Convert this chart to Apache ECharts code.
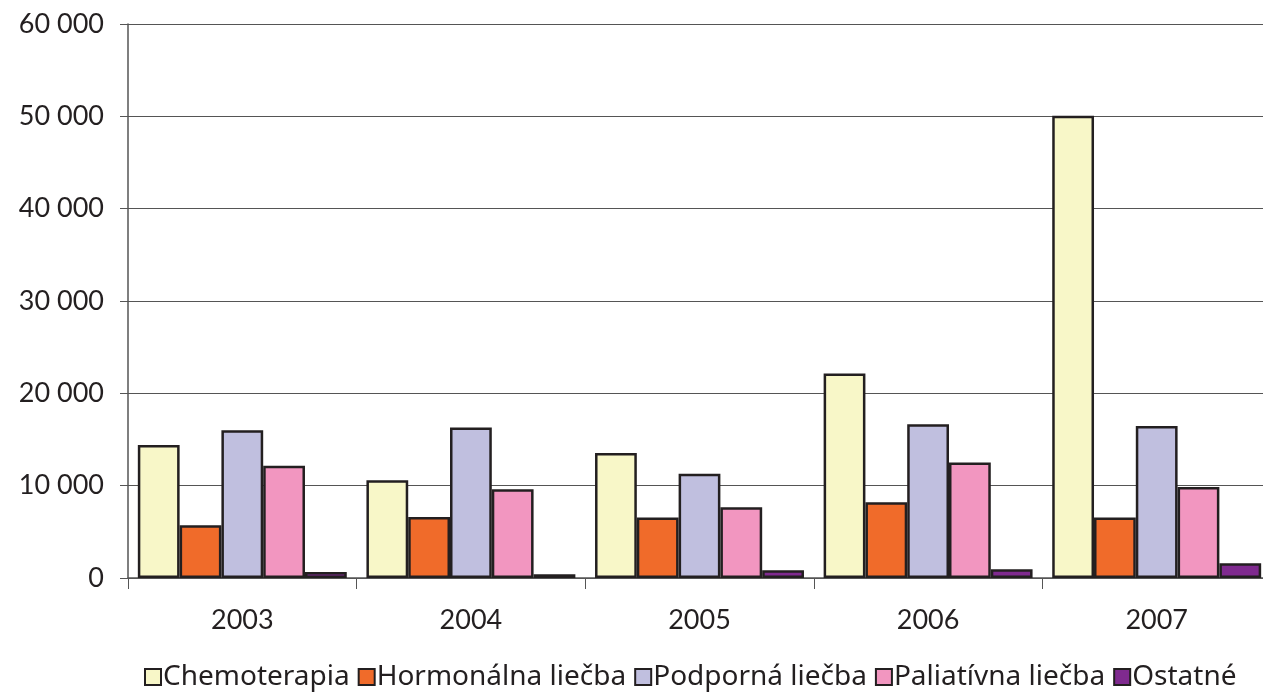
<!DOCTYPE html>
<html>
<head>
<meta charset="utf-8">
<script src="https://cdn.jsdelivr.net/npm/echarts@6/dist/echarts.min.js"></script>
<style>
html, body { margin: 0; padding: 0; background: #fff; }
#main { width: 1263px; height: 696px; }
</style>
</head>
<body>
<div id="main"></div>
<script>
// roky
const years = ['2003', '2004', '2005', '2006', '2007']
const seriesNames = ['Chemoterapia', 'Hormonálna liečba', 'Podporná liečba', 'Paliatívna liečba', 'Ostatné']
const chemoterapia = [14400, 10600, 13550, 22150, 50050]
const hormonalna = [5700, 6600, 6550, 8200, 6550]
const podporna = [16000, 16300, 11300, 16650, 16450]
const paliativna = [12150, 9600, 7650, 12500, 9850]
const ostatne = [650, 400, 850, 950, 1600]
const colors = ['#f8f7c8', '#f06b2a', '#c0bfdf', '#f296c0', '#7f2a8f']

const allData = [chemoterapia, hormonalna, podporna, paliativna, ostatne]

function fmt(v) {
  // medzera ako oddelovac tisicov
  return String(v).replace(/\B(?=(\d{3})+(?!\d))/g, ' ')
}

let myChart = echarts.init(document.getElementById('main'))
let option = {
  animation: false,
  textStyle: { fontFamily: 'Lato' },
  grid: {
    left: 128,
    top: 24,
    width: 1143,
    height: 554,
    outerBoundsMode: 'none'
  },
  legend: {
    data: seriesNames,
    bottom: 0,
    left: 139,
    itemWidth: 16,
    itemHeight: 16,
    itemGap: 8,
    icon: 'rect',
    textStyle: {
      color: '#231f20',
      fontSize: 28,
      fontFamily: 'Noto Sans',
      padding: [0, 0, 0, -3]
    }
  },
  xAxis: {
    type: 'category',
    data: years,
    axisLine: { lineStyle: { color: '#555', width: 1.5 } },
    axisTick: { show: true, length: 11, lineStyle: { color: '#555' } },
    axisLabel: { color: '#231f20', fontSize: 27, margin: 29 }
  },
  yAxis: {
    type: 'value',
    min: 0,
    max: 60000,
    interval: 10000,
    axisLine: { show: true, lineStyle: { color: '#555', width: 1.5 } },
    axisTick: { show: true, length: 8, lineStyle: { color: '#555' } },
    splitLine: { lineStyle: { color: '#555', width: 1 } },
    axisLabel: {
      color: '#231f20',
      fontSize: 27,
      margin: 24,
      formatter: fmt
    }
  },
  series: seriesNames.map((name, i) => ({
    name: name,
    type: 'bar',
    barGap: '0%',
    barCategoryGap: '8.6%',
    itemStyle: {
      color: colors[i],
      borderColor: '#231f20',
      borderWidth: 2.5
    },
    data: allData[i]
  }))
}
myChart.setOption(option)
</script>
</body>
</html>
